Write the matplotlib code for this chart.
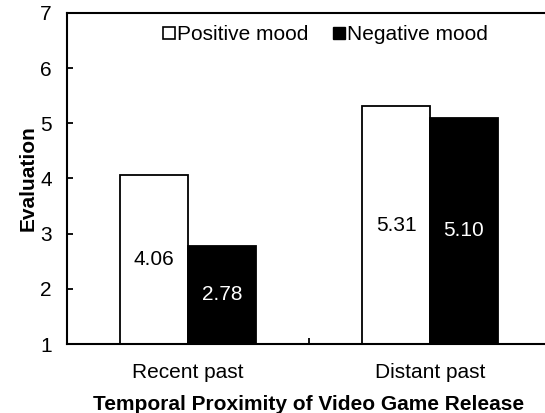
import matplotlib
matplotlib.use('Agg')
import matplotlib.pyplot as plt
from matplotlib.lines import Line2D
import numpy as np

plt.rcParams['font.family'] = ['Liberation Sans', 'DejaVu Sans']

# data
categories = ['Recent past', 'Distant past']
positive = [4.06, 5.31]
negative = [2.78, 5.10]
series_names = ['Positive mood', 'Negative mood']

fs = 15

fig = plt.figure(figsize=(5.45, 4.13), dpi=100)
ax = fig.add_axes([0.123, 0.167, 0.888, 0.802])

x = np.arange(len(categories))
w = 0.28
base = 1

ax.bar(x - w / 2, np.array(positive) - base, w, bottom=base, color='white',
       edgecolor='black', linewidth=1.3)
ax.bar(x + w / 2, np.array(negative) - base, w, bottom=base, color='black',
       edgecolor='black', linewidth=1.3)

# value labels in the middle of the bars
for i in range(len(categories)):
    ax.text(x[i] - w / 2, (base + positive[i]) / 2, f'{positive[i]:.2f}',
            ha='center', va='center', fontsize=fs, color='black')
    ax.text(x[i] + w / 2, (base + negative[i]) / 2, f'{negative[i]:.2f}',
            ha='center', va='center', fontsize=fs, color='white')

ax.set_ylim(1, 7)
ax.set_xlim(-0.5, 1.5)
ax.set_yticks(range(1, 8))
ax.set_xticks(x)
ax.set_xticklabels(categories)
ax.set_xticks([-0.5, 0.5, 1.5], minor=True)
ax.tick_params(axis='x', which='major', length=0, pad=14, labelsize=fs)
ax.tick_params(axis='x', which='minor', direction='in', length=4, width=1.3)
ax.tick_params(axis='y', direction='in', length=4, width=1.3, pad=11, labelsize=fs)

for s in ax.spines.values():
    s.set_linewidth(1.5)

ax.set_ylabel('Evaluation', fontsize=fs, fontweight='bold', labelpad=2)
ax.set_xlabel('Temporal Proximity of Video Game Release', fontsize=fs,
              fontweight='bold', labelpad=9)

handles = [
    Line2D([], [], linestyle='none', marker='s', markersize=8,
           markerfacecolor='white', markeredgecolor='black', markeredgewidth=1.2),
    Line2D([], [], linestyle='none', marker='s', markersize=8,
           markerfacecolor='black', markeredgecolor='black'),
]
ax.legend(handles, series_names, loc='center', bbox_to_anchor=(0.535, 0.933),
          ncol=2, frameon=False, fontsize=fs, handlelength=0.5,
          handletextpad=0.15, columnspacing=1.2)

fig.savefig('out.png', dpi=100)
